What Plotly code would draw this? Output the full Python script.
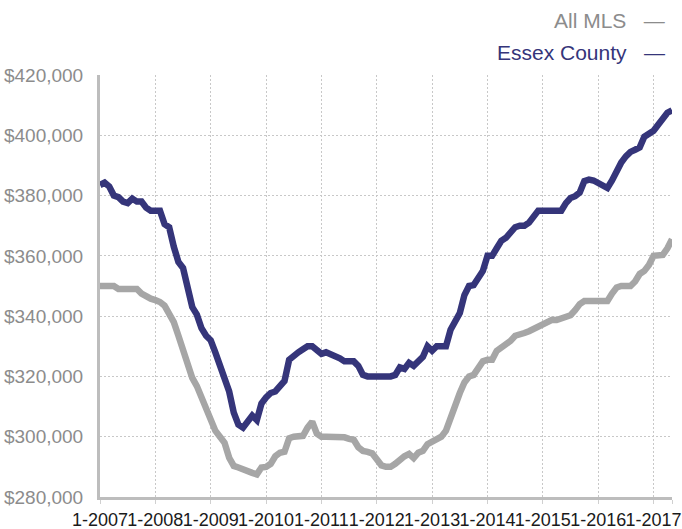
import plotly.graph_objects as go

start_year = 2007
n_months = 125
month_index = list(range(n_months))

year_ticks = [0, 12, 24, 36, 48, 60, 72, 84, 96, 108, 120]
year_labels = ["1-2007", "1-2008", "1-2009", "1-2010", "1-2011", "1-2012",
               "1-2013", "1-2014", "1-2015", "1-2016", "1-2017"]

essex_county = [
    383.5, 384.3, 383.0, 380.0, 379.5, 378.0, 377.5, 379.0, 378.0, 378.0,
    376.0, 375.0, 375.0, 375.0, 370.5, 369.5, 363.0, 358.0, 356.0, 349.0,
    343.0, 340.5, 336.0, 333.5, 332.0, 328.0, 323.5, 318.5, 315.0, 308.0,
    304.0, 303.0, 305.0, 307.0, 305.5, 311.0, 313.0, 314.5, 315.0, 316.5,
    318.5, 325.5, 327.0, 328.0, 329.0, 330.0, 330.0, 328.5, 327.5, 328.0,
    327.5, 326.5, 326.0, 325.0, 325.0, 325.0, 323.5, 320.5, 320.0, 320.0,
    320.0, 319.5, 320.0, 320.0, 320.5, 323.0, 322.5, 324.5, 323.5, 325.0,
    326.5, 330.0, 328.5, 330.0, 330.0, 330.0, 335.5, 338.0, 341.0, 347.0,
    350.0, 350.3, 352.5, 355.0, 360.0, 360.0, 362.5, 365.0, 366.0, 367.5,
    369.5, 370.0, 370.0, 371.0, 373.5, 375.0, 375.0, 375.0, 375.0, 375.0,
    375.0, 377.5, 379.2, 379.8, 381.0, 384.8, 385.3, 385.0, 384.0, 383.0,
    382.5, 385.0, 388.5, 391.0, 393.0, 394.5, 395.2, 396.0, 399.5, 400.3,
    401.5, 403.5, 406.0, 407.5, 408.3,
]

all_mls = [
    350.0, 350.0, 350.0, 350.0, 349.0, 349.0, 349.3, 349.3, 349.0, 347.5,
    346.5, 345.8, 345.3, 344.7, 343.5, 340.5, 338.0, 333.5, 329.0, 324.5,
    319.5, 316.8, 313.0, 309.5, 306.0, 302.0, 300.0, 298.0, 293.0, 290.3,
    289.8, 289.0, 288.5, 288.0, 287.5, 289.8, 290.0, 291.0, 293.5, 294.7,
    295.0, 299.5, 300.0, 300.0, 300.3, 303.0, 305.0, 301.0, 300.0, 300.0,
    300.0, 300.0, 300.0, 299.8, 299.3, 299.0, 296.5, 295.3, 295.0, 294.5,
    292.5, 290.5, 290.0, 290.0, 291.0, 292.5, 293.5, 294.3, 292.9, 294.7,
    295.3, 297.5, 298.5, 299.5, 300.0, 302.0, 306.0, 311.5, 314.5, 318.0,
    320.0, 320.5, 323.0, 325.0, 325.5, 325.5, 328.5, 329.5, 330.5, 331.8,
    333.5, 334.2, 334.4, 335.0, 335.7, 336.3, 337.2, 338.0, 338.8, 338.7,
    339.2, 340.0, 340.3, 342.0, 344.0, 345.0, 345.0, 345.0, 345.0, 345.0,
    345.0, 347.5, 349.5, 350.0, 350.0, 350.0, 351.5, 354.0, 355.0, 357.0,
    360.0, 360.2, 360.3, 362.5, 365.5,
]

y_ticks = [280000, 300000, 320000, 340000, 360000, 380000, 400000, 420000]

NAVY = "#35357a"
GRAY = "#a6a6a6"

labels = [f"{(start_year * 12 + m) % 12 + 1}-{(start_year * 12 + m) // 12}" for m in month_index]

fig = go.Figure()
fig.add_trace(go.Scatter(
    x=month_index, y=[v * 1000 for v in all_mls], name="All MLS",
    mode="lines", line=dict(color=GRAY, width=6.5), customdata=labels,
    hovertemplate="%{customdata}: $%{y:,.0f}<extra>All MLS</extra>",
))
fig.add_trace(go.Scatter(
    x=month_index, y=[v * 1000 for v in essex_county], name="Essex County",
    mode="lines", line=dict(color=NAVY, width=6.5), customdata=labels,
    hovertemplate="%{customdata}: $%{y:,.0f}<extra>Essex County</extra>",
))

fig.update_layout(
    width=682, height=529,
    margin=dict(l=100, r=10, t=75, b=32),
    plot_bgcolor="white", paper_bgcolor="white",
    showlegend=False,
    font=dict(family="Liberation Sans, Arial, sans-serif", size=18),
)

fig.update_xaxes(
    range=[0, n_months - 1],
    tickvals=year_ticks + [n_months - 1],
    ticktext=year_labels + [""],
    tickangle=0, automargin=False,
    tickfont=dict(color="#1a1a1a", size=18),
    showgrid=True, gridcolor="#c8c8c8", griddash="2px,2px", gridwidth=1,
    showline=True, linecolor="#bdbdbd", linewidth=3,
    ticks="outside", ticklen=4, tickcolor="#d0d0d0", tickwidth=1,
    ticklabelstandoff=0,
    zeroline=False,
)
fig.update_yaxes(
    range=[280000, 420000],
    tickvals=y_ticks,
    ticktext=[f"${v:,.0f}" for v in y_ticks],
    automargin=False,
    tickfont=dict(color="#8c8c8c", size=19),
    showgrid=True, gridcolor="#c8c8c8", griddash="2px,2px", gridwidth=1,
    showline=True, linecolor="#bdbdbd", linewidth=3,
    ticks="", ticklabelstandoff=10,
    zeroline=False,
)

fig.add_annotation(
    text="All MLS&nbsp;&nbsp;&nbsp;—", xref="paper", yref="paper",
    x=0.992, y=1.13, xanchor="right", yanchor="middle", showarrow=False,
    font=dict(color="#8c8c8c", size=21),
)
fig.add_annotation(
    text="Essex County&nbsp;&nbsp;&nbsp;—", xref="paper", yref="paper",
    x=0.992, y=1.0545, xanchor="right", yanchor="middle", showarrow=False,
    font=dict(color=NAVY, size=21),
)

fig.write_html("out.html", config={"displayModeBar": False},
               post_script="document.body.style.margin='0';")
